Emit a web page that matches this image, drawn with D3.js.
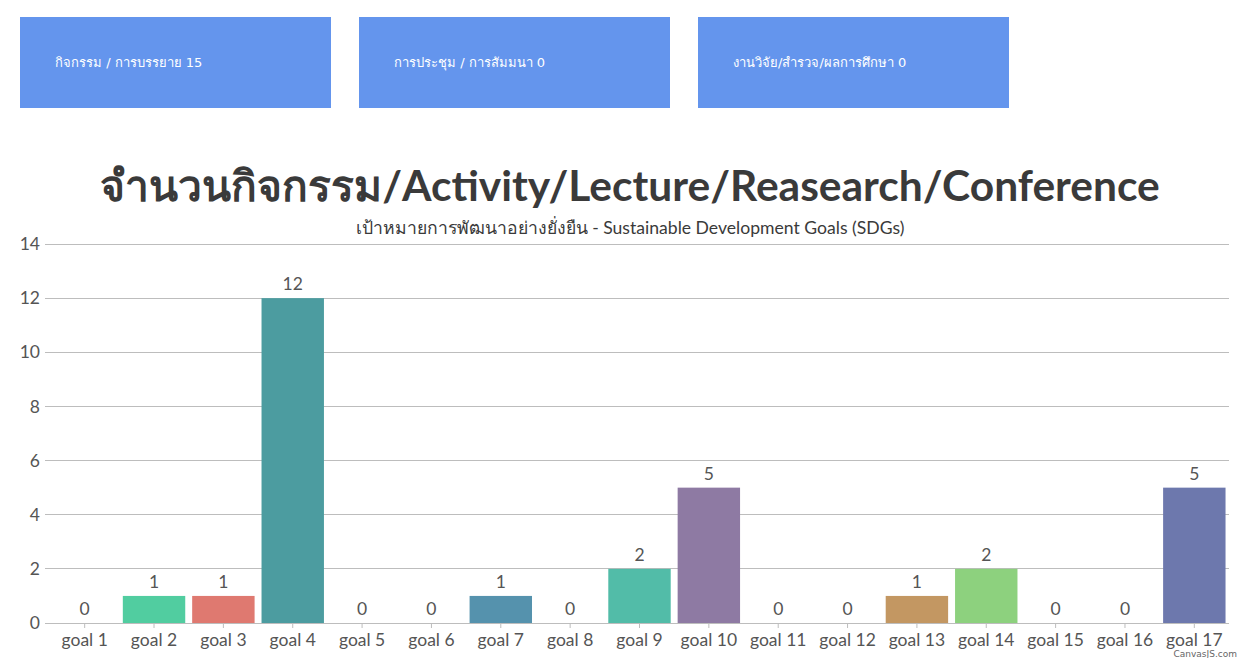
<!DOCTYPE html>
<html><head><meta charset="utf-8">
<script src="https://cdn.jsdelivr.net/npm/d3@7"></script>
<style>
html,body{margin:0;padding:0;background:#fff;}
svg{display:block;}
</style></head>
<body>
<svg id="chart" width="1260" height="658"></svg>
<script>
const boxLabels = ["กิจกรรม / การบรรยาย 15", "การประชุม / การสัมมนา 0", "งานวิจัย/สำรวจ/ผลการศึกษา 0"];
const categories = ["goal 1","goal 2","goal 3","goal 4","goal 5","goal 6","goal 7","goal 8","goal 9","goal 10","goal 11","goal 12","goal 13","goal 14","goal 15","goal 16","goal 17"];
const values = [0,1,1,12,0,0,1,0,2,5,0,0,1,2,0,0,5];
const colors = ["#6D78AD","#51CDA0","#DF7970","#4C9CA0","#AE7D99","#C9D45C","#5592AD","#DF874D","#52BCA8","#8E7AA3","#E3CB64","#C77B85","#C39762","#8DD17E","#B57952","#FCC26C","#6D78AD"];
const yTicks = [0,2,4,6,8,10,12,14];
const title = "จำนวนกิจกรรม/Activity/Lecture/Reasearch/Conference";
const subtitle = "เป้าหมายการพัฒนาอย่างยั่งยืน - Sustainable Development Goals (SDGs)";

const svg = d3.select("#chart");
const font = "Lato, 'Open Sans', 'Noto Sans', sans-serif";

// top boxes
const boxes = svg.selectAll("g.box").data(boxLabels).join("g").attr("class","box")
  .attr("transform",(d,i)=>`translate(${20 + i*339},17)`);
boxes.append("rect").attr("width",311).attr("height",91).attr("fill","#6495ED");
boxes.append("text").attr("x",35).attr("y",50).attr("fill","#fff")
  .style("font-family","Tahoma, 'DejaVu Sans', sans-serif").style("font-size","13px").text(d=>d);

// titles
svg.append("text").attr("x",630).attr("y",201).attr("text-anchor","middle")
  .style("font-family",font).style("font-weight","bold").style("font-size","42.5px").attr("fill","#3a3a3a").text(title);
svg.append("text").attr("x",630).attr("y",234).attr("text-anchor","middle")
  .style("font-family",font).style("font-size","17.6px").attr("fill","#3a3a3a").text(subtitle);

// scales
const x = d3.scaleBand().domain(categories).range([50, 1229]).paddingInner(0.1).paddingOuter(0.05);
const y = d3.scaleLinear().domain([0,14]).range([623, 244]);

// grid
svg.append("g").selectAll("line").data(yTicks.filter(d=>d>0)).join("line")
  .attr("x1",45).attr("x2",1229).attr("y1",d=>y(d)).attr("y2",d=>y(d))
  .attr("stroke","#bdbdbd").attr("stroke-width",1).attr("shape-rendering","crispEdges");

// y axis
const yAxis = svg.append("g").attr("transform","translate(45,0)")
  .call(d3.axisLeft(y).tickValues(yTicks).tickSize(0).tickPadding(5));
yAxis.select(".domain").remove();
yAxis.selectAll("text").style("font-family",font).style("font-size","17.5px").attr("fill","#555");

// bars
svg.append("g").selectAll("rect").data(values).join("rect")
  .attr("x",(d,i)=>x(categories[i])).attr("width",x.bandwidth())
  .attr("y",d=>y(d)).attr("height",d=>y(0)-y(d)).attr("fill",(d,i)=>colors[i]);

// x axis
const xAxis = svg.append("g").attr("transform","translate(0,623)")
  .call(d3.axisBottom(x).tickSize(5).tickPadding(6).tickSizeOuter(0));
xAxis.select(".domain").attr("stroke","#bdbdbd").attr("d","M45,0.5H1229").attr("shape-rendering","crispEdges");
xAxis.selectAll(".tick line").attr("stroke","#bdbdbd");
xAxis.selectAll("text").style("font-family",font).style("font-size","17.5px").attr("fill","#555");

// index labels
svg.append("g").selectAll("text").data(values).join("text")
  .attr("x",(d,i)=>x(categories[i])+x.bandwidth()/2).attr("y",d=>y(d)-8)
  .attr("text-anchor","middle").style("font-family",font).style("font-size","17.5px").attr("fill","#555").text(d=>d);

// credit
svg.append("text").attr("x",1237).attr("y",657).attr("text-anchor","end")
  .style("font-family","'DejaVu Sans', sans-serif").style("font-size","9px").attr("fill","#666").text("CanvasJS.com");
</script>
</body></html>
